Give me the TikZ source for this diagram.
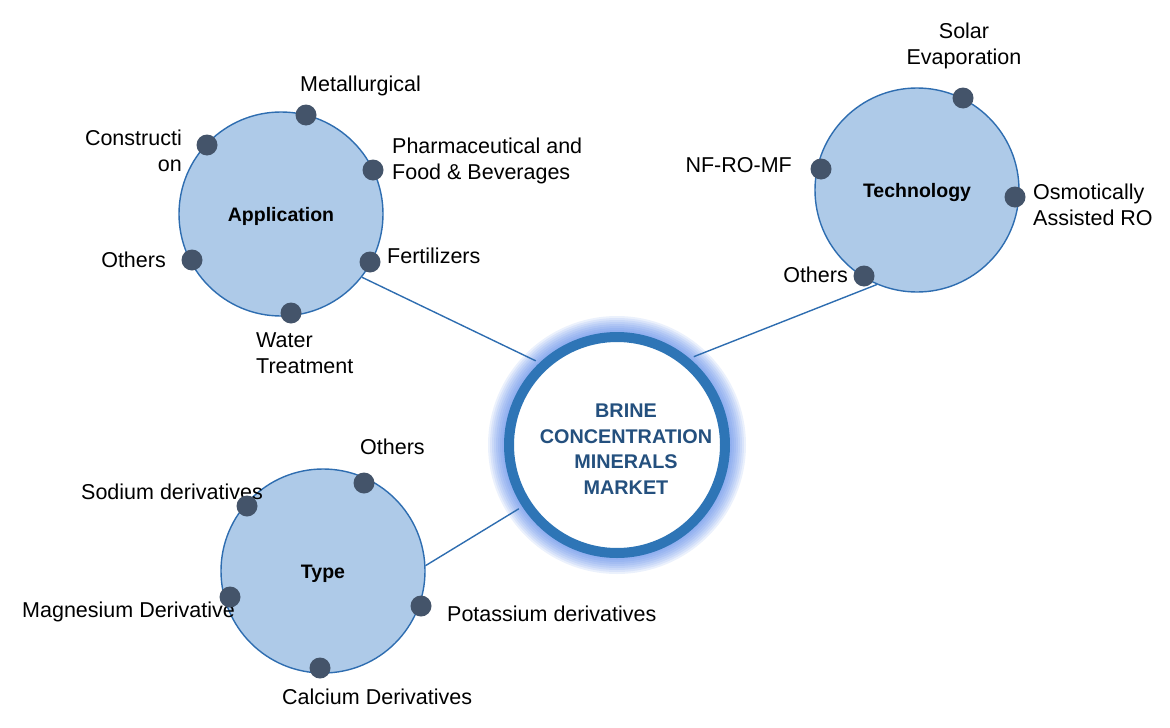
\documentclass[tikz,border=0pt]{standalone}
\usepackage{fontspec}
\setmainfont{Liberation Sans}
\usetikzlibrary{positioning}

\definecolor{segfill}{RGB}{174,202,232}
\definecolor{segline}{RGB}{46,109,176}
\definecolor{dotcol}{RGB}{68,84,106}
\definecolor{ringcol}{RGB}{46,117,182}
\definecolor{glowcol}{RGB}{75,125,230}
\definecolor{hubtext}{RGB}{36,80,126}

\begin{document}
\begin{tikzpicture}[x=1pt,y=-1pt,
  seg/.style={circle,draw=segline,line width=1.4pt,fill=segfill,minimum size=204pt,inner sep=0pt,text height=14pt,text depth=0pt,font=\fontsize{19.5}{23}\selectfont\bfseries},
  ele/.style={circle,fill=dotcol,minimum size=21pt,inner sep=0pt},
  lbl/.style={inner sep=0pt,font=\fontsize{21.5}{25.5}\selectfont},
  link/.style={draw=segline,line width=1.4pt}]
              \useasboundingbox (0,0) rectangle (1170,728);

              \foreach \w in {4,8,...,32}
                \draw[glowcol,opacity=0.11,line width=\w pt] (617,445) circle[radius=113pt];
              \node[circle,draw=ringcol,line width=10pt,fill=white,minimum size=216pt,inner sep=0pt,outer sep=9pt] (hub) at (617,445) {};
              \node[align=center,text=hubtext,font=\fontsize{19.8}{25.5}\selectfont\bfseries] (hubtxt) at (626,449) {BRINE\\CONCENTRATION\\MINERALS\\MARKET};

              \node[seg] (app) at (281,214) {Application};
              \node[seg] (tech) at (917,190) {Technology};
              \node[seg] (type) at (323,571) {Type};

              \draw[link] (app.-38) -- (hub.134);
              \draw[link] (tech.-113) -- (hub.49);
              \draw[link] (type.3) -- (hub.-147);

              \node[lbl,anchor=west] (la1) at (300,86) {Metallurgical};
              \node[lbl,anchor=east,align=right] (la2) at (182,151) {Constructi\\on};
              \node[lbl,anchor=west,align=left] (la3) at (392,161) {Pharmaceutical and\\Food \& Beverages};
              \node[lbl,anchor=west] (la4) at (387,256) {Fertilizers};
              \node[lbl,anchor=east] (la5) at (166,260) {Others};
              \node[lbl,anchor=west,align=left] (la6) at (256,353) {Water\\Treatment};

              \node[lbl,align=center] (lb1) at (964,46) {Solar\\Evaporation};
              \node[lbl,anchor=east] (lb2) at (792,165) {NF-RO-MF};
              \node[lbl,anchor=west,align=left] (lb3) at (1033,205) {Osmotically\\Assisted RO};
              \node[lbl,anchor=east] (lb4) at (848,275) {Others};

              \node[lbl,anchor=west] (lc1) at (360,447) {Others};
              \node[lbl,anchor=west] (lc2) at (81,492) {Sodium derivatives};
              \node[lbl,anchor=west] (lc3) at (22,612) {Magnesium Derivative};
              \node[lbl,anchor=west] (lc4) at (447,614) {Potassium derivatives};
              \node[lbl,anchor=west] (lc5) at (282,697) {Calcium Derivatives};

              \node[ele] (a1) at (306,115) {};
              \node[ele] (a2) at (207,145) {};
              \node[ele] (a3) at (373,170) {};
              \node[ele] (a4) at (370,262) {};
              \node[ele] (a5) at (192,260) {};
              \node[ele] (a6) at (291,313) {};

              \node[ele] (b1) at (963,98) {};
              \node[ele] (b2) at (821,169) {};
              \node[ele] (b3) at (1015,197) {};
              \node[ele] (b4) at (864,276) {};

              \node[ele] (c1) at (364,483) {};
              \node[ele] (c2) at (247,506) {};
              \node[ele] (c3) at (230,597) {};
              \node[ele] (c4) at (421,606) {};
              \node[ele] (c5) at (320,668) {};
            \end{tikzpicture}
\end{document}
